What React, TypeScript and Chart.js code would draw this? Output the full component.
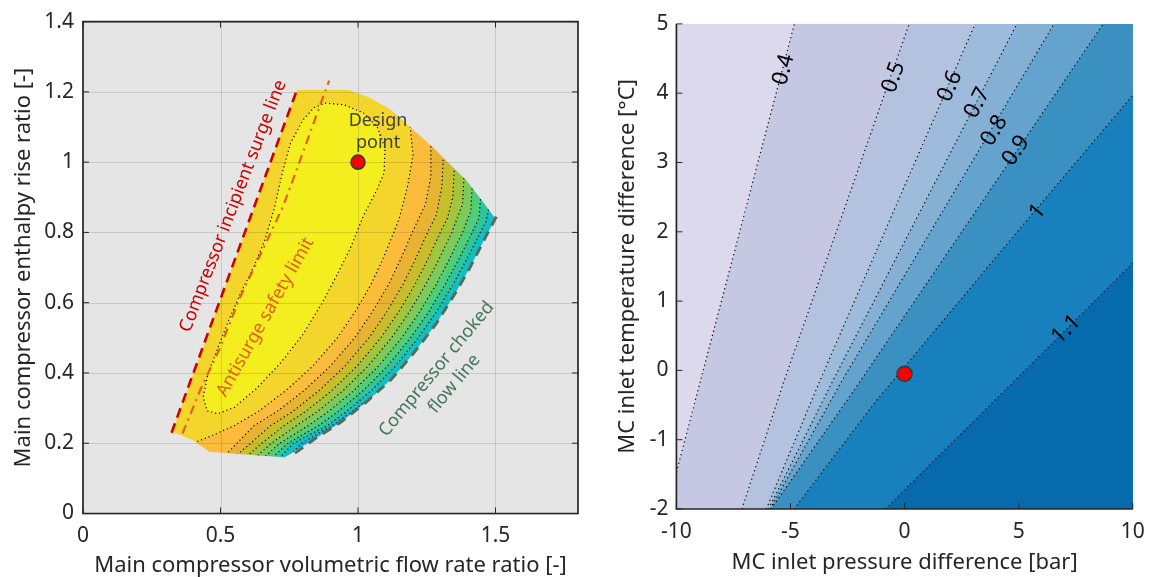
import React, { useEffect, useRef } from 'react';
import { Chart, registerables } from 'chart.js';

Chart.register(...registerables);

type P = [number, number];

const FONT = '"Noto Sans", "DejaVu Sans", sans-serif';
const AXIS_COLOR = '#262626';

// ================= Left panel: compressor map =================
const mapXTicks = [0, 0.5, 1, 1.5];
const mapYTicks = [0, 0.2, 0.4, 0.6, 0.8, 1, 1.2, 1.4];

const mapEnvelope: P[] = [
  [0.324, 0.233], [0.778, 1.205], [0.969, 1.205], [1.043, 1.184], [1.124, 1.147],
  [1.204, 1.09], [1.272, 1.043], [1.325, 1.001], [1.393, 0.949], [1.446, 0.896],
  [1.5, 0.839], [1.46, 0.781], [1.406, 0.698], [1.352, 0.625], [1.285, 0.541],
  [1.204, 0.458], [1.124, 0.384], [1.03, 0.317], [0.936, 0.259], [0.842, 0.212],
  [0.734, 0.16], [0.635, 0.165], [0.46, 0.176], [0.401, 0.208],
];

const surgeLine: P[] = [[0.322, 0.23], [0.779, 1.208]];
const antisurgeLine: P[] = [
  [0.362, 0.228], [0.425, 0.349], [0.498, 0.471], [0.571, 0.615], [0.65, 0.745],
  [0.728, 0.875], [0.801, 1.03], [0.845, 1.125], [0.895, 1.232],
];
const chokeLine: P[] = [
  [1.503, 0.845], [1.46, 0.781], [1.406, 0.698], [1.352, 0.625], [1.285, 0.541],
  [1.204, 0.458], [1.124, 0.384], [1.03, 0.317], [0.936, 0.259], [0.842, 0.212], [0.755, 0.163],
];

// innermost (highest) contour, closed
const innerContour: P[] = [
  [0.88, 1.168], [0.95, 1.163], [1.02, 1.14], [1.07, 1.1], [1.098, 1.04], [1.095, 0.97],
  [1.068, 0.92], [1.02, 0.848], [0.971, 0.753], [0.923, 0.678], [0.87, 0.6], [0.8, 0.51],
  [0.72, 0.43], [0.63, 0.355], [0.55, 0.302], [0.49, 0.284], [0.452, 0.292], [0.437, 0.33],
  [0.455, 0.4], [0.49, 0.47], [0.53, 0.55], [0.575, 0.63], [0.62, 0.7], [0.66, 0.775],
  [0.695, 0.866], [0.725, 0.97], [0.755, 1.055], [0.8, 1.12], [0.84, 1.155], [0.88, 1.168],
];

// outer contours, from upper-right edge to lower-left edge
const contour2: P[] = [[1.26, 1.16], [1.19, 1.1], [1.2, 1.02], [1.18, 0.93], [1.15, 0.84], [1.13, 0.8], [1.088, 0.72], [1.046, 0.65], [0.99, 0.575], [0.925, 0.5], [0.836, 0.42], [0.738, 0.35], [0.637, 0.29], [0.55, 0.25], [0.47, 0.222], [0.4, 0.2], [0.34, 0.16]];
const contour3: P[] = [[1.33, 1.12], [1.265, 1.048], [1.265, 0.96], [1.245, 0.88], [1.197, 0.8], [1.153, 0.72], [1.11, 0.65], [1.053, 0.575], [0.988, 0.5], [0.9, 0.42], [0.804, 0.35], [0.705, 0.29], [0.622, 0.25], [0.56, 0.2], [0.52, 0.168], [0.5, 0.12]];
const contour4: P[] = [[1.37, 1.07], [1.31, 1.011], [1.305, 0.93], [1.285, 0.85], [1.253, 0.8], [1.207, 0.72], [1.162, 0.65], [1.105, 0.575], [1.04, 0.5], [0.953, 0.42], [0.859, 0.35], [0.762, 0.29], [0.682, 0.25], [0.61, 0.2], [0.56, 0.167], [0.54, 0.12]];
const contour5: P[] = [[1.4, 1.03], [1.35, 0.981], [1.345, 0.9], [1.325, 0.84], [1.299, 0.8], [1.252, 0.72], [1.206, 0.65], [1.149, 0.575], [1.083, 0.5], [0.997, 0.42], [0.905, 0.35], [0.809, 0.29], [0.731, 0.25], [0.65, 0.2], [0.6, 0.166], [0.58, 0.12]];
const contour6: P[] = [[1.43, 1.0], [1.385, 0.953], [1.38, 0.88], [1.341, 0.8], [1.292, 0.72], [1.245, 0.65], [1.188, 0.575], [1.122, 0.5], [1.037, 0.42], [0.946, 0.35], [0.852, 0.29], [0.776, 0.25], [0.685, 0.2], [0.635, 0.165], [0.615, 0.12]];
const contour7: P[] = [[1.46, 0.97], [1.415, 0.924], [1.41, 0.86], [1.38, 0.8], [1.33, 0.72], [1.283, 0.65], [1.225, 0.575], [1.159, 0.5], [1.075, 0.42], [0.985, 0.35], [0.892, 0.29], [0.819, 0.25], [0.715, 0.2], [0.665, 0.164], [0.645, 0.12]];
const contour8: P[] = [[1.49, 0.94], [1.445, 0.892], [1.44, 0.84], [1.415, 0.8], [1.364, 0.72], [1.315, 0.65], [1.258, 0.575], [1.191, 0.5], [1.108, 0.42], [1.019, 0.35], [0.927, 0.29], [0.856, 0.25], [0.745, 0.2], [0.695, 0.163], [0.675, 0.12]];
const contour9: P[] = [[1.52, 0.91], [1.475, 0.866], [1.465, 0.83], [1.445, 0.8], [1.393, 0.72], [1.344, 0.65], [1.286, 0.575], [1.219, 0.5], [1.137, 0.42], [1.049, 0.35], [0.958, 0.29], [0.888, 0.25], [0.765, 0.2], [0.72, 0.162], [0.7, 0.12]];
const contour10: P[] = [[1.1, 0.36], [0.978, 0.29], [0.905, 0.25], [0.795, 0.2], [0.745, 0.16], [0.72, 0.12]];
const outerContours = [contour2, contour3, contour4, contour5, contour6, contour7, contour8, contour9, contour10];

// band colours: envelope base, inside inner contour, then outside each outer contour
const mapBaseColor = '#f4d52c';
const mapInnerColor = '#f5ee1e';
const mapBandColors = ['#fbbc3c', '#e6b332', '#c8bd2b', '#a2c53e', '#7bca5a', '#50cd78', '#2cc59c', '#13bfc3', '#21abdf'];

const mapDesignPoint: P = [1, 1];

// ================= Right panel: sensitivity map =================
const sensXTicks = [-10, -5, 0, 5, 10];
const sensYTicks = [-2, -1, 0, 1, 2, 3, 4, 5];
const sensLevels = ['0.4', '0.5', '0.6', '0.7', '0.8', '0.9', '1', '1.1'];
const sensLines: P[][] = [
  [[-10, -1.47], [-4.83, 5]],
  [[-7.13, -2], [-5.27, -0.14], [0.2, 5]],
  [[-6.06, -2], [-3.7, -0.14], [3.09, 5]],
  [[-5.96, -2], [-3.13, -0.14], [4.92, 5]],
  [[-5.89, -2], [-2.73, -0.14], [6.55, 5]],
  [[-5.85, -2], [-2.2, -0.28], [8.7, 5]],
  [[-4.84, -2], [-1.27, -0.45], [5.37, 2.17], [10, 3.97]],
  [[-0.84, -2], [7.08, 0.59], [10, 1.55]],
];
const sensLabelAt: P[] = [[-5.3, 4.34], [-0.48, 4.23], [1.99, 4.1], [3.19, 3.86], [3.93, 3.46], [4.88, 3.17], [5.83, 2.29], [7.08, 0.59]];
const sensBaseColor = '#dcd9ec';
const sensBandColors = ['#c6c8e3', '#b3c3df', '#9dbbda', '#84b0d4', '#64a3cd', '#3b90c2', '#1780bd', '#066aad'];
const sensDesignPoint: P = [0, -0.05];

// ================= helpers =================
const toXY = (pts: P[]) => pts.map(([x, y]) => ({ x, y }));

function polyDs(pts: P[], color: string, label = '') {
  return {
    label, data: toXY(pts), fill: 'shape', backgroundColor: color,
    borderColor: 'rgba(0,0,0,0)', borderWidth: 0, pointRadius: 0, tension: 0, clip: 0,
  };
}
function lineDs(pts: P[], color: string, width: number, dash: number[]) {
  return {
    data: toXY(pts), fill: false, borderColor: color, borderWidth: width, borderDash: dash,
    pointRadius: 0, tension: 0, clip: 0,
  };
}
function pointDs(p: P, radius: number) {
  return {
    data: toXY([p]), showLine: false, pointRadius: radius, pointBackgroundColor: '#ff0000',
    pointBorderColor: '#3a3a3a', pointBorderWidth: 1.6, clip: 0,
  };
}
function withOrder(ds: any[]) {
  return ds.map((d, i) => ({ ...d, order: ds.length - i }));
}
function extendPt(a: P, b: P, f: number): P {
  return [b[0] + (b[0] - a[0]) * f, b[1] + (b[1] - a[1]) * f];
}
// region lower/right of a map contour (closed outside the envelope)
function regionOutside(c: P[]): P[] {
  const f = c[0];
  const l = c[c.length - 1];
  return [...c, [l[0], -0.6], [2.6, -0.6], [2.6, f[1] + 0.4]];
}
// region right of a straight-ish contour in the sensitivity map
function regionRight(line: P[]): P[] {
  const s = extendPt(line[1], line[0], 0.5);
  const e = extendPt(line[line.length - 2], line[line.length - 1], 0.5);
  return [s, ...line, e, [14, e[1]], [14, -4], [s[0], -4]];
}

type Note = { lines: string[]; x: number; y: number; angle: number; color: string; size: number; gap?: number };

function bgPlugin(color: string) {
  return {
    id: 'bg',
    beforeDatasetsDraw(chart: any) {
      const { ctx, chartArea: a } = chart;
      ctx.save();
      ctx.fillStyle = color;
      ctx.fillRect(a.left, a.top, a.right - a.left, a.bottom - a.top);
      ctx.restore();
    },
  };
}

function gridPlugin(xt: number[], yt: number[]) {
  return {
    id: 'mapGrid',
    afterDatasetDraw(chart: any, args: any) {
      if (chart.data.datasets[args.index].label !== 'mask') return;
      const { ctx, chartArea: a, scales } = chart;
      ctx.save();
      ctx.strokeStyle = 'rgba(38,38,38,0.15)';
      ctx.lineWidth = 1;
      ctx.beginPath();
      for (const v of xt) {
        const px = Math.round(scales.x.getPixelForValue(v)) + 0.5;
        ctx.moveTo(px, a.top); ctx.lineTo(px, a.bottom);
      }
      for (const v of yt) {
        const py = Math.round(scales.y.getPixelForValue(v)) + 0.5;
        ctx.moveTo(a.left, py); ctx.lineTo(a.right, py);
      }
      ctx.stroke();
      ctx.restore();
    },
  };
}

function framePlugin(xt: number[], yt: number[], box: boolean) {
  return {
    id: 'frame',
    afterDraw(chart: any) {
      const { ctx, chartArea: a, scales } = chart;
      const L = 6;
      ctx.save();
      ctx.strokeStyle = AXIS_COLOR;
      ctx.lineWidth = 1;
      ctx.beginPath();
      for (const v of xt) {
        const px = scales.x.getPixelForValue(v);
        ctx.moveTo(px, a.bottom); ctx.lineTo(px, a.bottom - L);
        if (box) { ctx.moveTo(px, a.top); ctx.lineTo(px, a.top + L); }
      }
      for (const v of yt) {
        const py = scales.y.getPixelForValue(v);
        ctx.moveTo(a.left, py); ctx.lineTo(a.left + L, py);
        if (box) { ctx.moveTo(a.right, py); ctx.lineTo(a.right - L, py); }
      }
      ctx.stroke();
      ctx.lineWidth = 1.7;
      ctx.beginPath();
      if (box) {
        ctx.rect(a.left, a.top, a.right - a.left, a.bottom - a.top);
      } else {
        ctx.moveTo(a.left, a.top); ctx.lineTo(a.left, a.bottom); ctx.lineTo(a.right, a.bottom);
      }
      ctx.stroke();
      ctx.restore();
    },
  };
}

function notesPlugin(getNotes: (chart: any) => Note[]) {
  return {
    id: 'notes',
    afterDraw(chart: any) {
      const { ctx, scales } = chart;
      for (const n of getNotes(chart)) {
        const px = scales.x.getPixelForValue(n.x);
        const py = scales.y.getPixelForValue(n.y);
        ctx.save();
        ctx.font = `${n.size}px ${FONT}`;
        ctx.translate(px, py);
        ctx.rotate(n.angle);
        ctx.fillStyle = n.color;
        ctx.textAlign = 'center';
        ctx.textBaseline = 'middle';
        const k = n.lines.length;
        const gap = n.gap ?? n.size * 1.2;
        n.lines.forEach((t, i) => ctx.fillText(t, 0, (i - (k - 1) / 2) * gap));
        ctx.restore();
      }
    },
  };
}

const deg = (d: number) => (d * Math.PI) / 180;

function axisCfg(o: {
  min: number; max: number; ticks: number[]; title: string; size: number; pad: number;
  titlePad: { top: number; bottom: number };
}) {
  return {
    type: 'linear',
    min: o.min,
    max: o.max,
    afterBuildTicks: (s: any) => { s.ticks = o.ticks.map((v) => ({ value: v })); },
    afterFit: (s: any) => { if (s.isHorizontal()) s.height = o.size; else s.width = o.size; },
    grid: { display: false, drawTicks: false },
    border: { display: false },
    ticks: {
      color: AXIS_COLOR, font: { family: FONT, size: 21 }, padding: o.pad,
      autoSkip: false, maxRotation: 0, minRotation: 0, callback: (v: number) => String(v),
    },
    title: {
      display: true, text: o.title, color: AXIS_COLOR,
      font: { family: FONT, size: 22, lineHeight: 1 }, padding: o.titlePad,
    },
  };
}

function mapConfig(): any {
  const env = mapEnvelope;
  const outer: P[] = [[-1, -1], [-1, 3], [3, 3], [3, -1], [-1, -1]];
  const maskPts: P[] = [...outer, env[0], ...env.slice(1).reverse(), env[0], [-1, -1]];
  const ds: any[] = [
    polyDs(env, mapBaseColor),
    polyDs(innerContour, mapInnerColor),
    ...outerContours.map((c, i) => polyDs(regionOutside(c), mapBandColors[i])),
    lineDs(innerContour, '#000000', 1.2, [1.2, 2.8]),
    ...outerContours.map((c) => lineDs(c, '#000000', 1.2, [1.2, 2.8])),
    polyDs(maskPts, '#e5e5e5', 'mask'),
    lineDs(chokeLine, '#4f6f5b', 3, [10, 7]),
    lineDs(surgeLine, '#cc0000', 2.6, [10, 6]),
    lineDs(antisurgeLine, '#e0601e', 2.2, [9, 5, 2, 5]),
    pointDs(mapDesignPoint, 7),
  ];
  const notes: Note[] = [
    { lines: ['Compressor incipient surge line'], x: 0.546, y: 0.875, angle: deg(-69), color: '#cc0000', size: 18 },
    { lines: ['Antisurge safety limit'], x: 0.663, y: 0.559, angle: deg(-60.5), color: '#e0601e', size: 18 },
    { lines: ['Design', 'point'], x: 1.073, y: 1.087, angle: 0, color: '#404040', size: 18, gap: 22 },
    { lines: ['Compressor choked', 'flow line'], x: 1.318, y: 0.39, angle: deg(-50.3), color: '#43765c', size: 18, gap: 23 },
  ];
  return {
    type: 'line',
    data: { datasets: withOrder(ds) },
    options: {
      animation: false, responsive: false, devicePixelRatio: 1, events: [],
      layout: { padding: { left: 0, top: 17.8, right: 22, bottom: 0 } },
      plugins: { legend: { display: false }, tooltip: { enabled: false } },
      scales: {
        x: axisCfg({ min: 0, max: 1.8, ticks: mapXTicks, size: 63.5, pad: 10.3, title: 'Main compressor volumetric flow rate ratio [-]', titlePad: { top: 0, bottom: 0 } }),
        y: axisCfg({ min: 0, max: 1.4, ticks: mapYTicks, size: 83, pad: 9, title: 'Main compressor enthalpy rise ratio [-]', titlePad: { top: 13, bottom: 0 } }),
      },
    },
    plugins: [bgPlugin('#e5e5e5'), gridPlugin(mapXTicks, mapYTicks), framePlugin(mapXTicks, mapYTicks, true), notesPlugin(() => notes)],
  };
}

function sensConfig(): any {
  const ds: any[] = [
    ...sensLines.map((l, i) => polyDs(regionRight(l), sensBandColors[i])),
    ...sensLines.map((l) => lineDs(l, '#000000', 1.2, [1.2, 3.2])),
    pointDs(sensDesignPoint, 7.5),
  ];
  const getNotes = (chart: any): Note[] => {
    const { x, y } = chart.scales;
    return sensLabelAt.map((at, i) => {
      const line = sensLines[i];
      let seg = 0;
      for (let k = 0; k < line.length - 1; k++) {
        if (at[1] >= Math.min(line[k][1], line[k + 1][1]) && at[1] <= Math.max(line[k][1], line[k + 1][1])) seg = k;
      }
      const a = line[seg];
      const b = line[seg + 1];
      const ang = Math.atan2(y.getPixelForValue(b[1]) - y.getPixelForValue(a[1]), x.getPixelForValue(b[0]) - x.getPixelForValue(a[0]));
      return { lines: [sensLevels[i]], x: at[0], y: at[1], angle: ang, color: '#000000', size: 22 };
    });
  };
  return {
    type: 'line',
    data: { datasets: withOrder(ds) },
    options: {
      animation: false, responsive: false, devicePixelRatio: 1, events: [],
      layout: { padding: { left: 0, top: 23.9, right: 12, bottom: 0 } },
      plugins: { legend: { display: false }, tooltip: { enabled: false } },
      scales: {
        x: axisCfg({ min: -10, max: 10, ticks: sensXTicks, size: 68, pad: 10.2, title: 'MC inlet pressure difference [bar]', titlePad: { top: 0, bottom: 3 } }),
        y: axisCfg({ min: -2, max: 5, ticks: sensYTicks, size: 76.4, pad: 8, title: 'MC inlet temperature difference [°C]', titlePad: { top: 16.8, bottom: 0 } }),
      },
    },
    plugins: [bgPlugin(sensBaseColor), framePlugin(sensXTicks, sensYTicks, false), notesPlugin(getNotes)],
  };
}

export default function App() {
  const leftRef = useRef<HTMLCanvasElement>(null);
  const rightRef = useRef<HTMLCanvasElement>(null);
  useEffect(() => {
    const c1 = new Chart(leftRef.current as HTMLCanvasElement, mapConfig());
    const c2 = new Chart(rightRef.current as HTMLCanvasElement, sensConfig());
    return () => { c1.destroy(); c2.destroy(); };
  }, []);
  return (
    <div style={{ position: 'fixed', left: 0, top: 0, width: 1155, height: 577, background: '#ffffff', overflow: 'hidden' }}>
      <canvas ref={leftRef} width={600} height={577} style={{ position: 'absolute', left: 0, top: 0, width: 600, height: 577 }} />
      <canvas ref={rightRef} width={555} height={577} style={{ position: 'absolute', left: 600, top: 0, width: 555, height: 577 }} />
    </div>
  );
}
